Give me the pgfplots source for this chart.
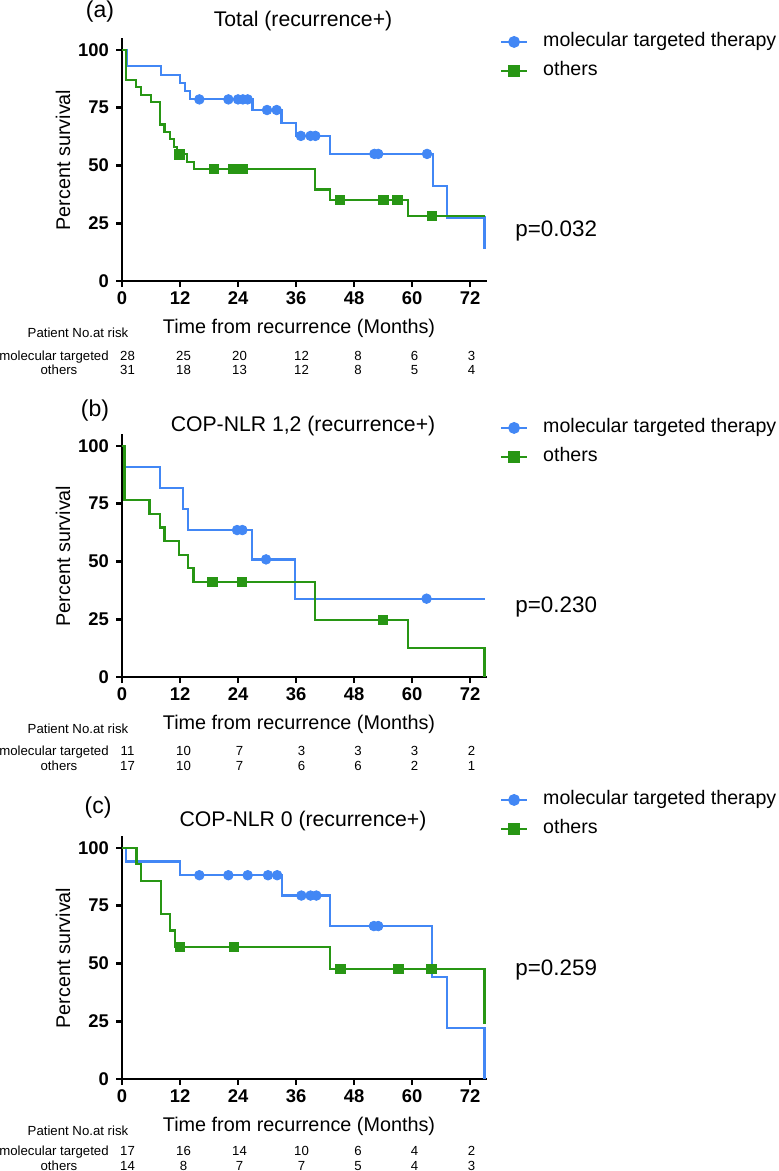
\documentclass[border=0pt]{standalone}
\usepackage{fontspec}
\setmainfont{Liberation Sans}
\usepackage{pgfplots}
\pgfplotsset{compat=1.18}
\definecolor{kmblue}{RGB}{66,135,245}
\definecolor{kmgreen}{RGB}{40,150,20}
\newcommand{\risk}{\fontsize{6.6}{7.5}\selectfont}
\newcommand{\ttl}{\fontsize{10.6}{12}\selectfont}
\newcommand{\lbl}{\fontsize{9.9}{11}\selectfont}
\newcommand{\pv}{\fontsize{11.2}{12}\selectfont}
\pgfplotsset{
 kmaxis/.style={
  scale only axis, width=182.5pt, height=121.3pt,
  xmin=0, xmax=75.5, ymin=0, ymax=105,
  axis lines=left, axis line style={-, line width=1.4pt, black},
  xtick={0,12,24,36,48,60,72}, ytick={0,25,50,75,100},
  tick align=outside, major tick length=3pt,
  tick style={line width=1.4pt, black},
  ticklabel style={font=\bfseries\fontsize{9.2}{10}\selectfont},
  xticklabel style={yshift=1pt},
  /pgf/number format/assume math mode=true,
  clip=false, anchor=south west,
  legend image code/.code={\draw[mark repeat=2,mark phase=2,##1] plot coordinates {(0pt,0pt) (6.5pt,0pt) (13pt,0pt)};},
  legend style={draw=none, fill=none, inner sep=0pt, outer sep=0pt, anchor=north west,
    font=\fontsize{9.8}{11}\selectfont, row sep=5pt, column sep=7.5pt,
    nodes={inner sep=0pt, text height=7.2pt, text depth=2.3pt}},
  legend cell align=left,
 },
 bl/.style={kmblue, line width=1.1pt, const plot, mark=none, forget plot},
 gl/.style={kmgreen, line width=1.1pt, const plot, mark=none, forget plot},
 bm/.style={only marks, mark=*, mark size=2.4pt, draw=kmblue, fill=kmblue, forget plot},
 gm/.style={only marks, mark=square*, mark size=2.35pt, draw=kmgreen, fill=kmgreen, forget plot},
 bleg/.style={kmblue, line width=1.1pt, mark=*, mark size=2.4pt, mark options={fill=kmblue}},
 gleg/.style={kmgreen, line width=1.1pt, mark=square*, mark size=2.35pt, mark options={fill=kmgreen}},
}
\begin{document}
\begin{tikzpicture}
\useasboundingbox (0,0) rectangle (389.5pt,-585.5pt);

% ---------------- (a)
\begin{axis}[kmaxis, at={(61pt,-140.5pt)}, legend style={at={(1.0356,1.0245)}}]
\addplot[bl] coordinates {(0,100) (1,92.9) (8,89.3) (12,85.7) (13,82.1) (14,78.6) (27,74.0) (33,68.5) (36,62.8) (43,55.0) (64.3,41.2) (67.2,27.5) (75,13.8)};
\addplot[bm] coordinates {(16,78.6) (22,78.6) (24,78.6) (25,78.6) (26,78.6) (30,74.0) (32,74.0) (37,62.8) (39,62.8) (40,62.8) (52.2,55.0) (53,55.0) (63.1,55.0)};
\addplot[gl] coordinates {(0,100) (0.8,87.1) (2.9,83.9) (4,80.6) (6,77.4) (7.9,67.7) (8.8,64.5) (9.9,61.3) (10.8,58.1) (11.4,54.8) (13.4,51.6) (14.9,48.4) (40,39.6) (43,35.2) (59.1,28.2) (75,28.2)};
\addplot[gm] coordinates {(11.9,54.8) (19,48.4) (22.9,48.4) (24.1,48.4) (25,48.4) (45.1,35.2) (54.1,35.2) (57,35.2) (64.1,28.2)};
\addlegendimage{bleg}\addlegendentry{molecular targeted therapy}
\addlegendimage{gleg}\addlegendentry{others}
\end{axis}

% ---------------- (b)
\begin{axis}[kmaxis, at={(61pt,-338.5pt)}, legend style={at={(1.0356,1.0658)}}]
\addplot[bl] coordinates {(0,100) (0.7,90.9) (7.8,81.8) (12.7,72.7) (13.7,63.6) (26.9,50.9) (35.8,33.9) (75,33.9)};
\addplot[bm] coordinates {(23.8,63.6) (24.9,63.6) (29.8,50.9) (63,33.9)};
\addplot[gl] coordinates {(0,100) (0.5,76.5) (5.7,70.6) (7.8,64.7) (8.8,58.8) (11.8,52.9) (13.7,47.1) (14.8,41.2) (40,24.7) (59.1,12.4) (75,0)};
\addplot[gm] coordinates {(18.7,41.2) (24.8,41.2) (54,24.7)};
\addlegendimage{bleg}\addlegendentry{molecular targeted therapy}
\addlegendimage{gleg}\addlegendentry{others}
\end{axis}

% ---------------- (c)
\begin{axis}[kmaxis, at={(61pt,-539.5pt)}, legend style={at={(1.0356,1.1894)}}]
\addplot[bl] coordinates {(0,100) (0.9,94.1) (12,88.2) (33.1,79.4) (43,66.2) (64.2,44.1) (67.3,22.1) (75,0)};
\addplot[bm] coordinates {(16,88.2) (22,88.2) (26,88.2) (30.2,88.2) (32.1,88.2) (37.1,79.4) (39,79.4) (40.2,79.4) (52.1,66.2) (53,66.2)};
\addplot[gl] coordinates {(0,100) (3,92.9) (4,85.7) (8,71.4) (10,64.3) (11,57.1) (43,47.6) (75,23.8)};
\addplot[gm] coordinates {(12,57.1) (23.2,57.1) (45.2,47.6) (57.2,47.6) (64,47.6)};
\addlegendimage{bleg}\addlegendentry{molecular targeted therapy}
\addlegendimage{gleg}\addlegendentry{others}
\end{axis}

\begin{scope}[x=0.5pt, y=-0.5pt]
% panel letters and titles
\node[anchor=base, font=\fontsize{11.5}{12}\selectfont] at (100,18) {(a)};
\node[anchor=base, font=\ttl] at (303,26.5) {Total (recurrence+)};
\node[anchor=base, font=\fontsize{11.5}{12}\selectfont] at (95,416.5) {(b)};
\node[anchor=base, font=\ttl] at (303,431) {COP-NLR 1,2 (recurrence+)};
\node[anchor=base, font=\fontsize{11.5}{12}\selectfont] at (98,813) {(c)};
\node[anchor=base, font=\ttl] at (303,826) {COP-NLR 0 (recurrence+)};
% y labels
\node[rotate=90, font=\lbl] at (63,160) {Percent survival};
\node[rotate=90, font=\lbl] at (63,556) {Percent survival};
\node[rotate=90, font=\lbl] at (63,958) {Percent survival};
% x labels
\node[anchor=base, font=\lbl] at (299,333.3) {Time from recurrence (Months)};
\node[anchor=base, font=\lbl] at (299,729.5) {Time from recurrence (Months)};
\node[anchor=base, font=\lbl] at (299,1131.5) {Time from recurrence (Months)};
% p values
\node[anchor=base west, font=\pv, inner sep=0pt] at (515,236.7) {p=0.032};
\node[anchor=base west, font=\pv, inner sep=0pt] at (515,612) {p=0.230};
\node[anchor=base west, font=\pv, inner sep=0pt] at (515,975) {p=0.259};
% risk tables
\node[anchor=base, font=\risk] at (78,337) {Patient No.at risk};
\node[anchor=base, font=\risk] at (54,360) {molecular targeted};
\node[anchor=base, font=\risk] at (59,374.3) {others};
\foreach \x/\v in {127.5/28,183.5/25,239.5/20,301.5/12,358/8,414.5/6,471.5/3}
  \node[anchor=base, font=\risk] at (\x,360) {\v};
\foreach \x/\v in {127.5/31,183.5/18,239.5/13,301.5/12,358/8,414.5/5,471.5/4}
  \node[anchor=base, font=\risk] at (\x,374.3) {\v};
\node[anchor=base, font=\risk] at (78,733) {Patient No.at risk};
\node[anchor=base, font=\risk] at (54,755.5) {molecular targeted};
\node[anchor=base, font=\risk] at (59,770) {others};
\foreach \x/\v in {127.5/11,183.5/10,239.5/7,301.5/3,358/3,414.5/3,471.5/2}
  \node[anchor=base, font=\risk] at (\x,755.5) {\v};
\foreach \x/\v in {127.5/17,183.5/10,239.5/7,301.5/6,358/6,414.5/2,471.5/1}
  \node[anchor=base, font=\risk] at (\x,770) {\v};
\node[anchor=base, font=\risk] at (78,1135) {Patient No.at risk};
\node[anchor=base, font=\risk] at (54,1155) {molecular targeted};
\node[anchor=base, font=\risk] at (59,1170) {others};
\foreach \x/\v in {127.5/17,183.5/16,239.5/14,301.5/10,358/6,414.5/4,471.5/2}
  \node[anchor=base, font=\risk] at (\x,1155) {\v};
\foreach \x/\v in {127.5/14,183.5/8,239.5/7,301.5/7,358/5,414.5/4,471.5/3}
  \node[anchor=base, font=\risk] at (\x,1170) {\v};
\end{scope}
\end{tikzpicture}
\end{document}
